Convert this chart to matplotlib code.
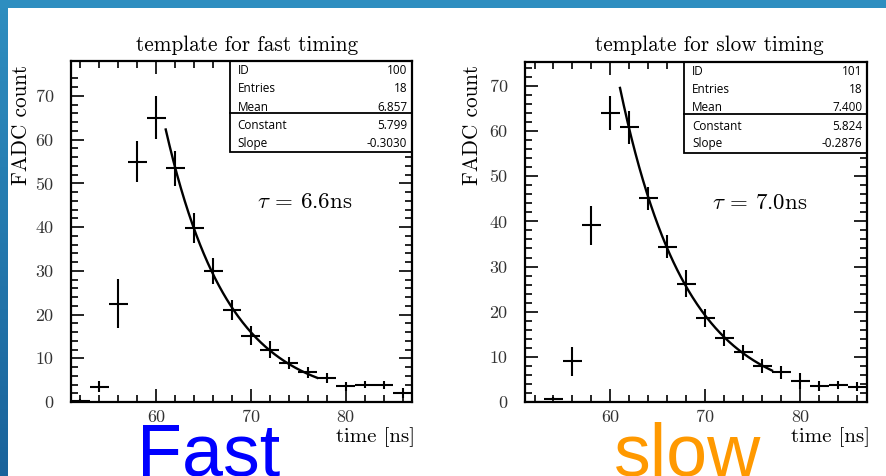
import numpy as np
import matplotlib
matplotlib.use("Agg")
import matplotlib.pyplot as plt
from matplotlib.patches import Rectangle

plt.rcParams["font.family"] = "cmr10"
plt.rcParams["mathtext.fontset"] = "cm"
plt.rcParams["axes.unicode_minus"] = False

# bin centres [ns], 2 ns bins from 51 to 87
bins = [52, 54, 56, 58, 60, 62, 64, 66, 68, 70, 72, 74, 76, 78, 80, 82, 84, 86]

fast_counts = [0.3, 3.5, 22.5, 55.0, 65.0, 53.5, 39.8, 30.0, 21.0, 15.2, 12.0, 9.0, 6.8, 5.4, 3.6, 4.0, 3.8, 2.0]
fast_err = [0.3, 1.2, 5.6, 4.7, 4.9, 4.0, 3.4, 2.9, 2.3, 2.1, 2.0, 1.4, 1.2, 1.15, 1.0, 0.9, 0.9, 1.15]

slow_counts = [0.0, 0.7, 9.0, 39.1, 64.0, 60.8, 45.1, 34.4, 26.2, 18.6, 14.2, 11.0, 8.0, 6.6, 4.6, 3.5, 3.8, 3.4]
slow_err = [0.0, 0.3, 3.2, 4.3, 3.7, 3.6, 2.6, 2.5, 3.0, 2.1, 1.85, 1.6, 1.6, 1.4, 1.8, 1.1, 0.85, 1.0]

# expo fit results (x in bin units from 50 ns)
fast_fit = {"Constant": 5.799, "Slope": -0.3030}
slow_fit = {"Constant": 5.824, "Slope": -0.2876}
fit_range = (61, 77)

panels = [
    dict(title="template for fast timing", counts=fast_counts, err=fast_err, fit=fast_fit,
         stats=[("ID", "100"), ("Entries", "18"), ("Mean", "6.857"),
                ("Constant", "5.799"), ("Slope", "-0.3030")],
         tau=r"$\tau$ = 6.6ns", ymax=78, big="Fast", big_color="#0000ff",
         rect=[71 / 887, 1 - 402 / 476, 341 / 887, 341 / 476],
         title_x=247 / 887, ylab_x=21 / 887, big_x=137 / 887),
    dict(title="template for slow timing", counts=slow_counts, err=slow_err, fit=slow_fit,
         stats=[("ID", "101"), ("Entries", "18"), ("Mean", "7.400"),
                ("Constant", "5.824"), ("Slope", "-0.2876")],
         tau=r"$\tau$ = 7.0ns", ymax=75.3, big="slow", big_color="#ff9900",
         rect=[525 / 887, 1 - 402 / 476, 342 / 887, 340 / 476],
         title_x=709 / 887, ylab_x=472 / 887, big_x=614 / 887),
]

fig = plt.figure(figsize=(8.87, 4.76), dpi=100)

# slide frame: top band and left gradient strip
fig.patches.append(Rectangle((0, 1 - 8 / 476), 1, 8 / 476, transform=fig.transFigure,
                             facecolor="#2e8ec0", edgecolor="none", zorder=0))
strip = fig.add_axes([0, 0, 8 / 887, 1])
strip.imshow(np.linspace(0, 1, 100).reshape(-1, 1), aspect="auto",
             cmap=matplotlib.colors.LinearSegmentedColormap.from_list("s", ["#2e8ec0", "#1a639b"]))
strip.axis("off")

for p in panels:
    ax = fig.add_axes(p["rect"])
    ax.errorbar(bins, p["counts"], yerr=p["err"], xerr=1, fmt="none",
                ecolor="black", elinewidth=1.5, capsize=0, zorder=3)
    xf = np.linspace(fit_range[0], fit_range[1], 200)
    yf = np.exp(p["fit"]["Constant"] + p["fit"]["Slope"] * (xf - 50) / 2)
    ax.plot(xf, yf, color="black", lw=1.7, zorder=3)

    ax.set_xlim(51, 87)
    ax.set_ylim(0, p["ymax"])
    ax.set_xticks([60, 70, 80])
    ax.set_xticks(np.arange(52, 87, 2), minor=True)
    ax.set_yticks(np.arange(0, 71, 10))
    ax.set_yticks(np.arange(0, 76, 2), minor=True)
    ax.tick_params(which="both", direction="in", top=True, right=True,
                   width=1.2, colors="black", labelcolor="#333333", labelsize=13)
    ax.tick_params(which="major", length=9.5)
    ax.tick_params(which="minor", length=5)
    ax.tick_params(axis="x", pad=5.5)
    ax.tick_params(axis="y", pad=12.5)
    for s in ax.spines.values():
        s.set_linewidth(1.6)

    ax.text(1.01, -0.102, "time [ns]", transform=ax.transAxes, ha="right", va="center",
            fontsize=15)
    ax.text(0.686, 0.585, p["tau"], transform=ax.transAxes, ha="center", va="center",
            fontsize=16.5)

    # stats box
    ax.add_patch(Rectangle((0.466, 0.733), 0.534, 0.267, transform=ax.transAxes,
                           facecolor="white", edgecolor="black", lw=1.3, zorder=2))
    ax.plot([0.466, 1.0], [0.847, 0.847], transform=ax.transAxes, color="black",
            lw=1.3, zorder=2)
    rows_y = [0.971, 0.918, 0.865, 0.811, 0.759]
    for (name, val), yy in zip(p["stats"], rows_y):
        ax.text(0.489, yy, name, transform=ax.transAxes, ha="left", va="center",
                fontsize=8.5, family="Open Sans", zorder=4)
        ax.text(0.986, yy, val, transform=ax.transAxes, ha="right", va="center",
                fontsize=8.5, family="Open Sans", zorder=4)

    fig.text(p["title_x"], 1 - 45 / 476, p["title"], ha="center", va="center", fontsize=15.3)
    fig.text(p["ylab_x"], 1 - 125 / 476, "FADC count", rotation=90, ha="center",
             va="center", fontsize=15.3)
    fig.text(p["big_x"], 0.0, p["big"], ha="left", va="baseline", fontsize=53,
             family="Liberation Sans", color=p["big_color"])

fig.savefig("out.png", dpi=100)
